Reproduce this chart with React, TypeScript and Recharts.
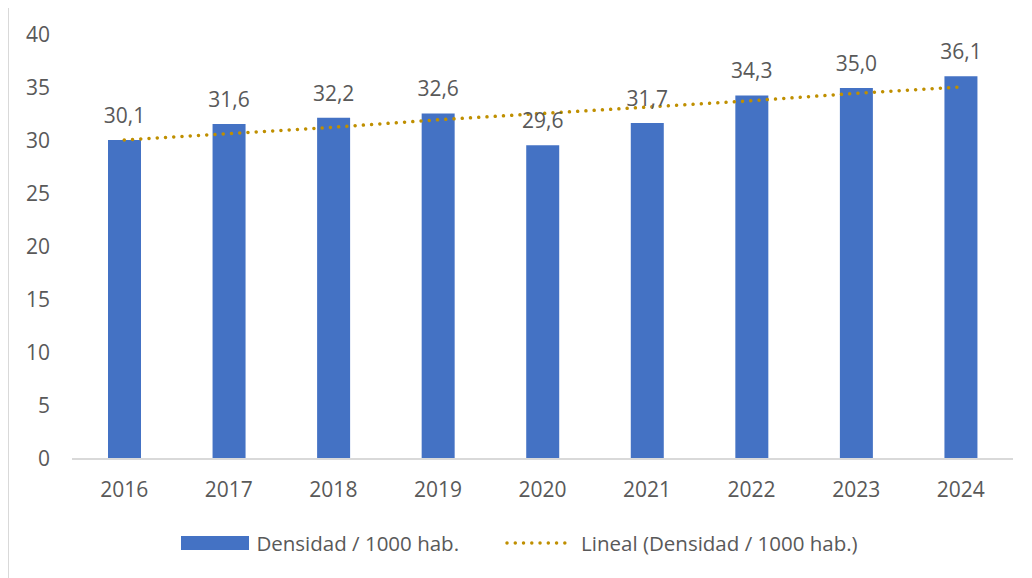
import React from "react";
import {
    ComposedChart,
    Bar,
    Line,
    XAxis,
    YAxis,
    Legend,
    LabelList,
} from "recharts";

// Densidad por 1000 habitantes, 2016-2024
const years: string[] = ["2016", "2017", "2018", "2019", "2020", "2021", "2022", "2023", "2024"];
const densidad: number[] = [30.1, 31.6, 32.2, 32.6, 29.6, 31.7, 34.3, 35.0, 36.1];
// linear trendline
const tendencia: number[] = [30.1, 30.7, 31.3, 32.0, 32.6, 33.2, 33.8, 34.5, 35.1];
const yTicks: number[] = [0, 5, 10, 15, 20, 25, 30, 35, 40];

const BAR_LABEL = "Densidad / 1000 hab.";
const TREND_LABEL = "Lineal (Densidad / 1000 hab.)";

const BLUE = "#4472C4";
const GOLD = "#BF8F00";
const TEXT = "#595959";
const FONT = "'Open Sans', sans-serif";

const data = years.map((year, i) => ({
    year,
    densidad: densidad[i],
    tendencia: tendencia[i],
}));

const fmt = (v: any) => Number(v).toFixed(1).replace(".", ",");

const ChartLegend = () => (
    <div
        style={{
            display: "flex",
            justifyContent: "center",
            alignItems: "center",
            height: 48,
            paddingLeft: 17,
            fontFamily: FONT,
            fontSize: 20.5,
            color: TEXT,
        }}
    >
        <span style={{ display: "inline-block", width: 68, height: 14, background: BLUE, marginRight: 7 }} />
        <span style={{ marginRight: 46 }}>{BAR_LABEL}</span>
        <svg width={70} height={10} style={{ marginRight: 6 }}>
            <line
                x1={2}
                y1={5}
                x2={68}
                y2={5}
                stroke={GOLD}
                strokeWidth={3.5}
                strokeLinecap="round"
                strokeDasharray="0.01 8.25"
            />
        </svg>
        <span>{TREND_LABEL}</span>
    </div>
);

export default function App() {
    return (
        <div
            style={{
                width: 1024,
                height: 570,
                marginLeft: -1,
                marginTop: -2,
                borderTop: "2px solid #d9d9d9",
                borderLeft: "2px solid #d9d9d9",
                background: "#fff",
            }}
        >
            <ComposedChart
                width={1022}
                height={568}
                data={data}
                margin={{ top: 27, right: 18, bottom: 9, left: 0 }}
            >
                <XAxis
                    dataKey="year"
                    axisLine={{ stroke: "#d9d9d9", strokeWidth: 2 }}
                    tickLine={false}
                    tickSize={0}
                    tickMargin={23}
                    height={60}
                    tick={{ fill: TEXT, fontSize: 21, fontFamily: FONT }}
                />
                <YAxis
                    domain={[0, 40]}
                    ticks={yTicks}
                    axisLine={false}
                    tickLine={false}
                    tickSize={0}
                    tickMargin={22}
                    width={63}
                    tick={{ fill: TEXT, fontSize: 21, fontFamily: FONT }}
                />
                <Legend verticalAlign="bottom" height={48} content={<ChartLegend />} />
                <Bar dataKey="densidad" name={BAR_LABEL} fill={BLUE} barSize={33} isAnimationActive={false}>
                    <LabelList
                        dataKey="densidad"
                        position="top"
                        offset={17}
                        formatter={fmt}
                        style={{ fill: TEXT, fontSize: 21, fontFamily: FONT }}
                    />
                </Bar>
                <Line
                    dataKey="tendencia"
                    name={TREND_LABEL}
                    type="linear"
                    stroke={GOLD}
                    strokeWidth={3.5}
                    strokeLinecap="round"
                    strokeDasharray="0.01 8.25"
                    dot={false}
                    activeDot={false}
                    isAnimationActive={false}
                />
            </ComposedChart>
        </div>
    );
}
